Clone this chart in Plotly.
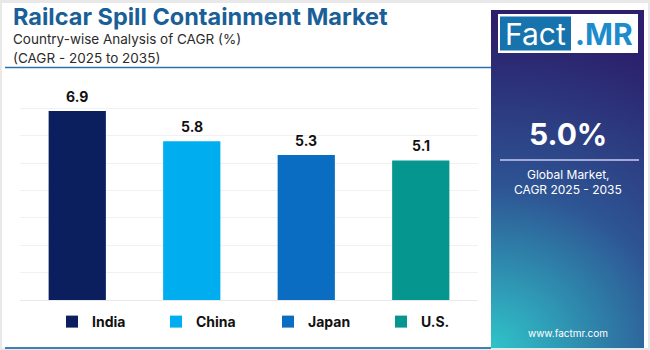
import base64, struct, zlib
import numpy as np
import plotly.graph_objects as go

# ---------------- data ----------------
countries = ["India", "China", "Japan", "U.S."]
cagr = [6.9, 5.8, 5.3, 5.1]
bar_colors = ["#0b1f5f", "#00aeef", "#0a6dc2", "#05978f"]
title_text = "Railcar Spill Containment Market"
subtitle_lines = ["Country-wise Analysis of CAGR (%)", "(CAGR - 2025 to 2035)"]
global_cagr = "5.0%"
panel_lines = ["Global Market,", "CAGR 2025 - 2035"]
site = "www.factmr.com"

# ---------------- geometry helpers ----------------
W, H = 650, 350
L, R, T, B = 20, 478, 81, 300
PW, PH = R - L, B - T


def px(x):
    return (x - L) / PW


def py(y):
    return (B - y) / PH


FONT = "Inter"

# ---------------- gradient panel image ----------------
def gradient_png(w, h):
    xs = np.linspace(0, 1, w)[None, :]
    ys = np.linspace(1, 0, h)[:, None]  # 0 at bottom
    d = np.sqrt((xs / 2.4) ** 2 + (ys / 0.95) ** 2)
    t = np.clip(1 - d, 0, 1)
    c0 = np.array([0x2c, 0x20, 0x6c], float)   # indigo (top)
    c1 = np.array([0x2e, 0x55, 0x94], float)   # mid blue
    c2 = np.array([0x30, 0xc4, 0xca], float)   # teal (bottom-left)
    tt = t[..., None]
    a = np.clip(tt / 0.5, 0, 1)
    b = np.clip((tt - 0.5) / 0.5, 0, 1)
    img = np.where(tt < 0.5, c0 * (1 - a) + c1 * a, c1 * (1 - b) + c2 * b)
    img = np.clip(img, 0, 255).astype(np.uint8)
    raw = b"".join(b"\x00" + img[r].tobytes() for r in range(h))

    def chunk(tag, data):
        c = struct.pack(">I", len(data)) + tag + data
        return c + struct.pack(">I", zlib.crc32(tag + data) & 0xFFFFFFFF)

    png = b"\x89PNG\r\n\x1a\n"
    png += chunk(b"IHDR", struct.pack(">IIBBBBB", w, h, 8, 2, 0, 0, 0))
    png += chunk(b"IDAT", zlib.compress(raw, 9))
    png += chunk(b"IEND", b"")
    return "data:image/png;base64," + base64.b64encode(png).decode()


panel_x0, panel_x1, panel_y0, panel_y1 = 491, 644, 10, 348

legend_names = ["legend", "legend2", "legend3", "legend4"]
legend_px = [52, 156, 268, 381]

fig = go.Figure()
for c, v, col, lg in zip(countries, cagr, bar_colors, legend_names):
    fig.add_trace(go.Bar(x=[c], y=[v], name=c, marker=dict(color=col, line=dict(width=0)),
                         showlegend=True, legend=lg, hoverinfo="skip"))

shapes = []
# card background
shapes.append(dict(type="rect", xref="paper", yref="paper", layer="below",
                   x0=px(2), x1=px(648), y0=py(348), y1=py(3),
                   fillcolor="white", line=dict(width=0)))
# line under subtitle
shapes.append(dict(type="line", xref="paper", yref="paper", layer="above",
                   x0=px(5), x1=px(491), y0=py(67.5), y1=py(67.5),
                   line=dict(color="#2f6fa6", width=1.5)))
# bottom line
shapes.append(dict(type="line", xref="paper", yref="paper", layer="above",
                   x0=px(5), x1=px(491), y0=py(348), y1=py(348),
                   line=dict(color="#3f80b8", width=2)))
# logo box
shapes.append(dict(type="rect", xref="paper", yref="paper", layer="above",
                   x0=px(498), x1=px(638), y0=py(53), y1=py(14),
                   fillcolor="white", line=dict(width=0)))
shapes.append(dict(type="rect", xref="paper", yref="paper", layer="above",
                   x0=px(500), x1=px(571), y0=py(50.5), y1=py(16.5),
                   fillcolor="#1673ad", line=dict(width=0)))
# separator line in panel
shapes.append(dict(type="line", xref="paper", yref="paper", layer="above",
                   x0=px(500), x1=px(639), y0=py(160), y1=py(160),
                   line=dict(color="#a3a9d6", width=2)))

images = [dict(source=gradient_png(panel_x1 - panel_x0, panel_y1 - panel_y0),
               xref="paper", yref="paper", x=px(panel_x0), y=py(panel_y0),
               sizex=(panel_x1 - panel_x0) / PW, sizey=(panel_y1 - panel_y0) / PH,
               xanchor="left", yanchor="top", sizing="stretch", layer="above")]

ann = []
# value labels
for c, v in zip(countries, cagr):
    ann.append(dict(x=c, y=v, xref="x", yref="y", text=f"<b>{v:.1f}</b>", showarrow=False,
                    yanchor="bottom", yshift=4, font=dict(family=FONT, size=14, color="#111111")))
# titles
ann.append(dict(xref="paper", yref="paper", x=px(11), y=py(16), xanchor="left", yanchor="middle",
                text=f"<b>{title_text}</b>", showarrow=False,
                font=dict(family=FONT, size=23.5, color="#1a5f97")))
for i, s in enumerate(subtitle_lines):
    ann.append(dict(xref="paper", yref="paper", x=px(11), y=py(39.5 + 18.5 * i), xanchor="left",
                    yanchor="middle", text=s, showarrow=False,
                    font=dict(family=FONT, size=13.5, color="#2b2b2b")))
# logo text
ann.append(dict(xref="paper", yref="paper", x=px(535.5), y=py(34), xanchor="center", yanchor="middle",
                text="Fact", showarrow=False, font=dict(family=FONT, size=30, color="white")))
ann.append(dict(xref="paper", yref="paper", x=px(604), y=py(34), xanchor="center", yanchor="middle",
                text="<b>.MR</b>", showarrow=False, font=dict(family=FONT, size=30, color="#1d8ccc")))
# panel texts
ann.append(dict(xref="paper", yref="paper", x=px(568), y=py(134), xanchor="center", yanchor="middle",
                text=f"<b>{global_cagr}</b>", showarrow=False,
                font=dict(family=FONT, size=30, color="white")))
for i, s in enumerate(panel_lines):
    ann.append(dict(xref="paper", yref="paper", x=px(568), y=py(174 + 15 * i), xanchor="center",
                    yanchor="middle", text=s, showarrow=False,
                    font=dict(family=FONT, size=12, color="white")))
ann.append(dict(xref="paper", yref="paper", x=px(568), y=py(333), xanchor="center", yanchor="middle",
                text=site, showarrow=False, font=dict(family=FONT, size=10, color="white")))

legend_common = dict(orientation="h", yanchor="middle", xanchor="left", itemwidth=30,
                     font=dict(family=FONT, size=14, color="#111111", weight="bold"),
                     bgcolor="rgba(0,0,0,0)", itemclick=False, itemdoubleclick=False)

layout_legends = {}
for lg, lx in zip(legend_names, legend_px):
    layout_legends[lg] = dict(x=px(lx), y=py(322), **legend_common)

fig.update_layout(
    width=W, height=H, autosize=False,
    margin=dict(l=L, r=W - R, t=T, b=H - B, pad=0),
    paper_bgcolor="#e8e8e8", plot_bgcolor="rgba(0,0,0,0)",
    bargap=0.5, barmode="overlay",
    xaxis=dict(type="category", categoryorder="array", categoryarray=countries,
               range=[-0.5, 3.5], showticklabels=False, showgrid=False, zeroline=False,
               showline=False, ticks=""),
    yaxis=dict(range=[0, 8], dtick=1, showticklabels=False, showgrid=True,
               gridcolor="#f1f1f1", gridwidth=1, zeroline=True, zerolinecolor="#e9e9e9",
               zerolinewidth=1, showline=False, ticks=""),
    shapes=shapes, images=images, annotations=ann,
    font=dict(family=FONT),
    **layout_legends,
)

fig.write_html("out.html")
